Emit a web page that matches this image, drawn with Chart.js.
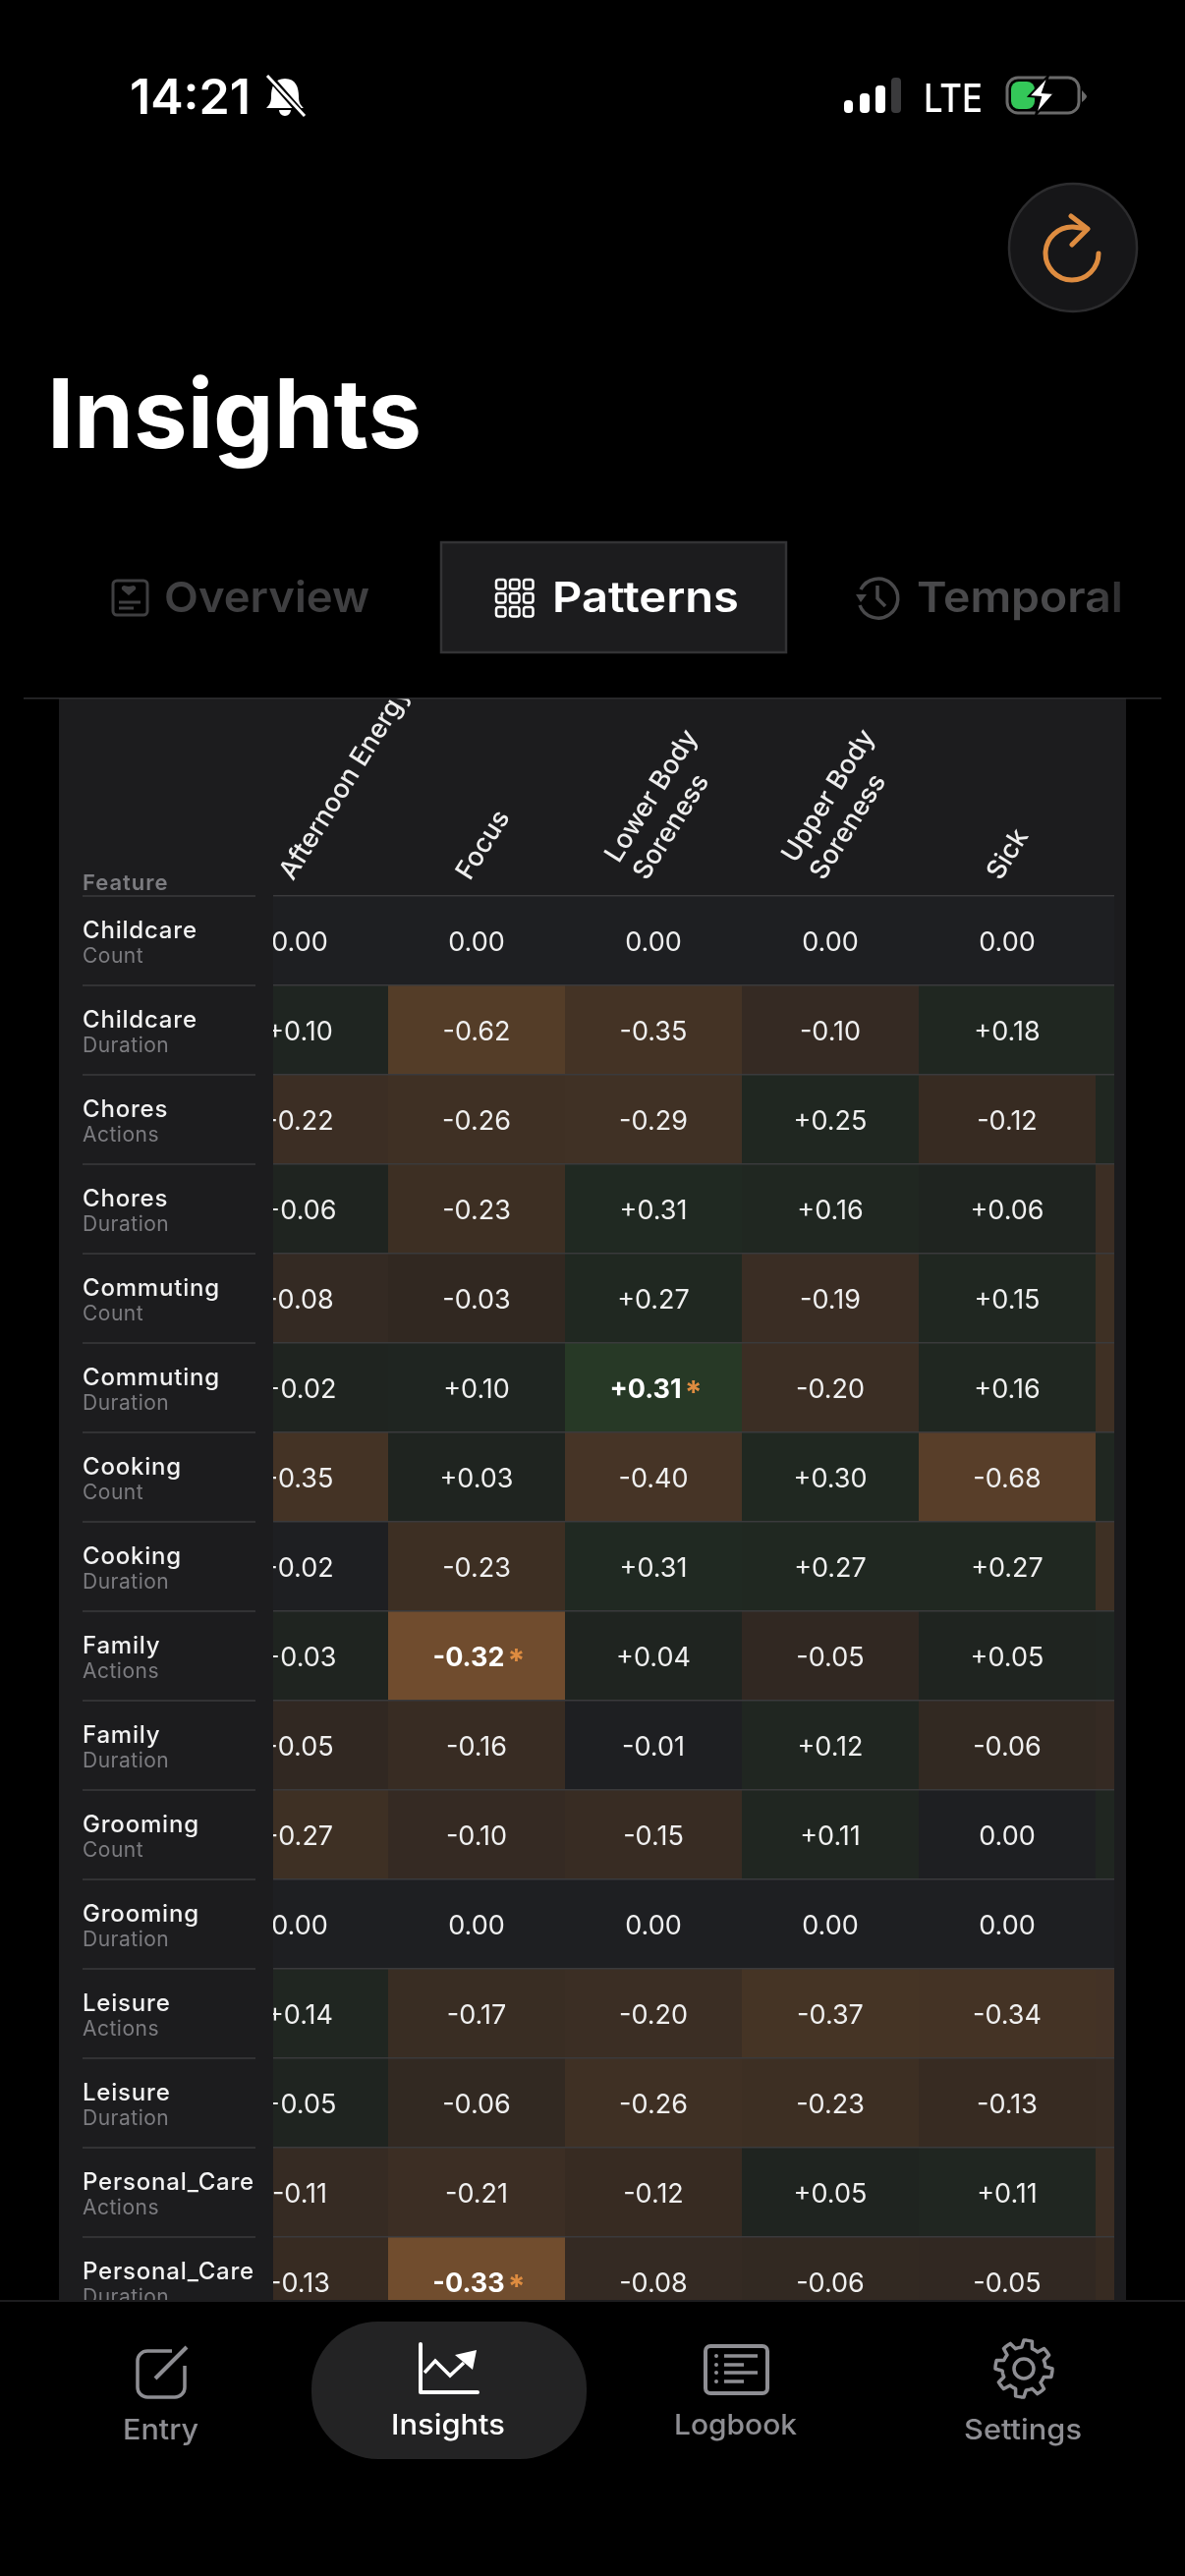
<!DOCTYPE html>
<html>
<head>
<meta charset="utf-8">
<title>Insights</title>
<script src="https://cdn.jsdelivr.net/npm/chart.js@4/dist/chart.umd.min.js"></script>
<style>
    html, body { margin: 0; background: #000; width: 1206px; height: 2622px; overflow: hidden; }
    #panel { position: absolute; left: 60px; top: 711px; width: 1086px; height: 1630px; background: #1c1c1e; }
    #scroller { position: absolute; left: 0; top: 0; width: 1074px; height: 1630px; overflow: hidden; }
    #heatmap { position: absolute; left: 0; top: 0; }
    #chrome { position: absolute; left: 0; top: 0; }
    #chrome text { font-family: Inter, sans-serif; }
</style>
</head>
<body>
<div id="panel"><div id="scroller"><canvas id="heatmap" width="1235" height="1657" style="width:1235px;height:1657px"></canvas></div></div>

<svg id="chrome" width="1206" height="2622" viewBox="0 0 1206 2622" xmlns="http://www.w3.org/2000/svg">
    <!-- status bar -->
    <text x="132" y="116" font-size="49" font-weight="600" fill="#fff" textLength="123" lengthAdjust="spacingAndGlyphs">14:21</text>
    <path d="M290 80 c-11 0 -14 9 -14 18 c0 7 -2 9 -5 12 h38 c-3 -3 -5 -5 -5 -12 c0 -9 -3 -18 -14 -18z M284 112 a6 6 0 0 0 12 0z" fill="#fff"/>
    <path d="M274 78 L309 118" stroke="#000" stroke-width="7"/>
    <path d="M272 77 L310 118" stroke="#fff" stroke-width="3"/>
    <rect x="859" y="102" width="9" height="13" rx="4" fill="#fff"/>
    <rect x="875" y="95" width="10" height="20" rx="4" fill="#fff"/>
    <rect x="891" y="87" width="10" height="28" rx="4" fill="#fff"/>
    <rect x="907" y="79" width="10" height="36" rx="4" fill="#3a3a3c"/>
    <text x="940" y="114" font-size="40" font-weight="500" fill="#fff" textLength="60" lengthAdjust="spacingAndGlyphs">LTE</text>
    <rect x="1025" y="79" width="73" height="36" rx="11" fill="none" stroke="#6a6a6a" stroke-width="3"/>
    <rect x="1029" y="83" width="24" height="28" rx="8" fill="#34c759"/>
    <path d="M1067 77 L1047 98 L1059 99 L1054 117 L1073 95 L1061 94z" fill="#fff" stroke="#000" stroke-width="2"/>
    <path d="M1101 92 q5 5 5 6 q0 2 -5 6z" fill="#6a6a6a"/>

    <!-- refresh button -->
    <circle cx="1092" cy="252" r="65" fill="#161618" stroke="#2c2c2e" stroke-width="2.5"/>
    <path d="M1118 258 A27 27 0 1 1 1092 231 L1107 233 M1090 220 L1107 233 L1091 249" fill="none" stroke="#de8c40" stroke-width="5" stroke-linecap="round" stroke-linejoin="round"/>

    <text x="48" y="456" font-size="98" font-weight="700" fill="#fff" textLength="381" lengthAdjust="spacingAndGlyphs">Insights</text>

    <!-- tabs -->
    <rect x="449" y="552" width="351" height="112" fill="#1c1c1e" stroke="#333335" stroke-width="2.5"/>
    <text x="562" y="623" font-size="43" font-weight="600" fill="#fff" textLength="190" lengthAdjust="spacingAndGlyphs">Patterns</text>
    <g fill="none" stroke="#fff" stroke-width="2.5" id="gridIcon"></g>
    <text x="167" y="623" font-size="43" font-weight="600" fill="#3f3f41" textLength="209" lengthAdjust="spacingAndGlyphs">Overview</text>
    <rect x="115" y="591" width="35" height="35" rx="4" fill="none" stroke="#3f3f41" stroke-width="3"/>
    <path d="M132 597 l-5 -1 q-3 1 -2 4 l7 6 l7 -6 q1 -3 -2 -4z" fill="#3f3f41" transform="translate(-1 0)"/>
    <path d="M121 613 H143 M121 619 H136" stroke="#3f3f41" stroke-width="3"/>
    <defs>
        <linearGradient id="fadeTab" x1="933" x2="1141" y1="0" y2="0" gradientUnits="userSpaceOnUse">
            <stop offset="0" stop-color="#49494b"/><stop offset="0.85" stop-color="#49494b"/><stop offset="1" stop-color="#2c2c2e"/>
        </linearGradient>
    </defs>
    <text x="933" y="623" font-size="43" font-weight="600" fill="url(#fadeTab)" textLength="210" lengthAdjust="spacingAndGlyphs">Temporal</text>
    <path d="M876 600 A20 20 0 1 1 875 616" fill="none" stroke="#49494b" stroke-width="3.5"/>
    <path d="M871 605 L882 605 L876 613z" fill="#49494b"/>
    <path d="M893 596 V609 L901 617" fill="none" stroke="#49494b" stroke-width="3.5"/>

    <rect x="24" y="710" width="1158" height="1.5" fill="#2c2c2e"/>

    <!-- bottom nav -->
    <rect x="0" y="2341" width="1206" height="281" fill="#000"/>
    <rect x="0" y="2341" width="1206" height="2" fill="#1c1c1e"/>
    <rect x="317" y="2363" width="280" height="140" rx="68" fill="#232324"/>
    <path d="M175 2393 H150 a10 10 0 0 0 -10 10 V2430 a10 10 0 0 0 10 10 H178 a10 10 0 0 0 10 -10 V2408" fill="none" stroke="#8e8e93" stroke-width="3.5"/>
    <path d="M158 2421 L190 2389" stroke="#8e8e93" stroke-width="4"/>
    <text x="125" y="2483" font-size="29" font-weight="500" fill="#8e8e93" textLength="77" lengthAdjust="spacingAndGlyphs">Entry</text>
    <path d="M428 2386 V2435 H486" fill="none" stroke="#fff" stroke-width="4" stroke-linecap="round" stroke-linejoin="round"/>
    <path d="M432 2415 L443 2403 L458 2418 L472 2405" fill="none" stroke="#fff" stroke-width="3.5"/>
    <path d="M485 2392 L463 2397 L481 2412z" fill="#fff"/>
    <text x="398" y="2478" font-size="29" font-weight="500" fill="#fff" textLength="116" lengthAdjust="spacingAndGlyphs">Insights</text>
    <rect x="718" y="2388" width="63" height="48" rx="5" fill="none" stroke="#8e8e93" stroke-width="4"/>
    <path d="M737 2398 H771 M737 2407 H757 M737 2415 H771 M737 2424 H757" stroke="#8e8e93" stroke-width="3.5"/>
    <path d="M729 2398 v.1 M729 2407 v.1 M729 2415 v.1 M729 2424 v.1" stroke="#8e8e93" stroke-width="4" stroke-linecap="round"/>
    <text x="686" y="2478" font-size="29" font-weight="500" fill="#8e8e93" textLength="125" lengthAdjust="spacingAndGlyphs">Logbook</text>
    <path id="gearIcon" fill="none" stroke="#8e8e93" stroke-width="3.5" stroke-linejoin="round"/>
    <circle cx="1042" cy="2411" r="10" fill="none" stroke="#8e8e93" stroke-width="3.5"/>
    <text x="981" y="2483" font-size="29" font-weight="500" fill="#8e8e93" textLength="120" lengthAdjust="spacingAndGlyphs">Settings</text>
</svg>

<script>
// rows of the table
const features = ['Childcare', 'Childcare', 'Chores', 'Chores', 'Commuting', 'Commuting', 'Cooking', 'Cooking',
    'Family', 'Family', 'Grooming', 'Grooming', 'Leisure', 'Leisure', 'Personal_Care', 'Personal_Care'];
const metrics = ['Count', 'Duration', 'Actions', 'Duration', 'Count', 'Duration', 'Count', 'Duration',
    'Actions', 'Duration', 'Count', 'Duration', 'Actions', 'Duration', 'Actions', 'Duration'];

// columns, the sixth one is scrolled out of view and its name can't be read
const outcomes = [['Afternoon Energy'], ['Focus'], ['Lower Body', 'Soreness'], ['Upper Body', 'Soreness'], ['Sick'], ['']];

const afternoonEnergy = [0, 0.10, -0.22, 0.06, -0.08, 0.024, -0.35, -0.016, 0.03, -0.05, -0.27, 0, 0.14, 0.05, -0.11, -0.13];
const focus = [0, -0.62, -0.26, -0.23, -0.03, 0.10, 0.03, -0.23, -0.32, -0.16, -0.10, 0, -0.17, -0.06, -0.21, -0.33];
const lowerBodySoreness = [0, -0.35, -0.29, 0.31, 0.27, 0.31, -0.40, 0.31, 0.04, -0.01, -0.15, 0, -0.20, -0.26, -0.12, -0.08];
const upperBodySoreness = [0, -0.10, 0.25, 0.16, -0.19, -0.20, 0.30, 0.27, -0.05, 0.12, 0.11, 0, -0.37, -0.23, 0.05, -0.06];
const sick = [0, 0.18, -0.12, 0.06, 0.15, 0.16, -0.68, 0.27, 0.05, -0.06, 0, 0, -0.34, -0.13, 0.11, -0.05];
const hiddenOutcome = [0, 0.17, 0.22, -0.22, -0.24, -0.26, 0.15, -0.24, 0.08, -0.10, 0.12, 0, -0.33, -0.14, -0.21, -0.12];

const columns = [afternoonEnergy, focus, lowerBodySoreness, upperBodySoreness, sick, hiddenOutcome];

// [row, column] of the starred cells
const significant = [[5, 2], [8, 1], [15, 1]];
const isSignificant = (r, c) => significant.some(s => s[0] === r && s[1] === c);

const cellColor = (v, r, c) => {
    if (Math.abs(v) < 0.02) return 'rgb(30,31,34)';
    const boost = isSignificant(r, c) ? 2.2 : 1;
    if (v < 0) return `rgba(224,142,68,${(0.1 + 0.3 * -v) * boost})`;
    return `rgba(90,190,80,${(0.05 + 0.1 * v) * boost})`;
};

const formatValue = (v) => {
    if (v === 0) return '0.00';
    return (v > 0 ? '+' : '-') + Math.abs(v).toFixed(2);
};

const cellLabels = {
    id: 'cellLabels',
    afterDraw(chart) {
        const { ctx, scales: { x, y } } = chart;
        ctx.save();
        ctx.textAlign = 'center';
        ctx.textBaseline = 'middle';
        columns.forEach((values, c) => {
            const cx = x.getPixelForValue(c);
            values.forEach((v, r) => {
                const cy = y.getPixelForValue(r + 0.5) + 2;
                const text = formatValue(v);
                if (isSignificant(r, c)) {
                    ctx.font = '700 27px Inter';
                    ctx.fillStyle = '#fff';
                    ctx.fillText(text, cx - 8, cy);
                    const w = ctx.measureText(text).width;
                    ctx.font = '700 32px Inter';
                    ctx.fillStyle = '#de8c40';
                    ctx.fillText('*', cx - 8 + w / 2 + 12, cy + 5);
                } else {
                    ctx.font = '400 27px Inter';
                    ctx.fillStyle = '#f0f0f0';
                    ctx.fillText(text, cx, cy);
                }
            });
        });

        // sticky first column on top of the scrolled cells
        ctx.fillStyle = '#1c1c1e';
        ctx.fillRect(0, 0, 218, chart.height);
        ctx.textAlign = 'left';
        ctx.textBaseline = 'alphabetic';
        ctx.font = '600 22px Inter';
        ctx.letterSpacing = '1px';
        ctx.fillStyle = '#7c7c80';
        ctx.fillText('Feature', 24, y.top - 6);
        ctx.strokeStyle = '#3a3a3c';
        ctx.lineWidth = 1.5;
        features.forEach((name, r) => {
            const top = y.getPixelForValue(r);
            ctx.beginPath();
            ctx.moveTo(24, top);
            ctx.lineTo(200, top);
            ctx.stroke();
            ctx.font = '500 24px Inter';
            ctx.letterSpacing = '0.8px';
            ctx.fillStyle = '#f2f2f2';
            ctx.fillText(name, 24, top + 43);
            ctx.font = '400 21px Inter';
            ctx.letterSpacing = '0.5px';
            ctx.fillStyle = '#7c7c80';
            ctx.fillText(metrics[r], 24, top + 68);
        });
        ctx.restore();
    }
};

const chart = new Chart(document.getElementById('heatmap'), {
    type: 'bar',
    data: {
        labels: outcomes,
        // one dataset per table row, spanning [row, row + 1] on the reversed y scale
        datasets: features.map((name, r) => ({
            label: name + ' ' + metrics[r],
            data: columns.map(() => [r, r + 1]),
            backgroundColor: columns.map((values, c) => cellColor(values[r], r, c)),
            borderWidth: 0,
            inflateAmount: 0,
            grouped: false,
            barPercentage: 1,
            categoryPercentage: 1
        }))
    },
    options: {
        responsive: false,
        maintainAspectRatio: false,
        animation: false,
        layout: { padding: 0, autoPadding: false },
        plugins: { legend: { display: false }, tooltip: { enabled: false } },
        scales: {
            x: {
                type: 'category',
                position: 'top',
                afterFit: (s) => { s.height = 201; },
                grid: { display: false },
                border: { display: false },
                ticks: {
                    autoSkip: false,
                    minRotation: 58,
                    maxRotation: 58,
                    padding: 2,
                    labelOffset: 15,
                    color: '#eeeeee',
                    font: { family: 'Inter', size: 27, weight: '500', lineHeight: 1.25 }
                }
            },
            y: {
                type: 'linear',
                reverse: true,
                min: 0,
                max: 16,
                afterFit: (s) => { s.width = 155; },
                border: { display: false },
                grid: { color: '#3a3a3c', lineWidth: 1.5, drawTicks: false, z: 1 },
                ticks: { display: false, stepSize: 1 }
            }
        }
    },
    plugins: [cellLabels]
});

// tab and nav icons
const gridIcon = document.getElementById('gridIcon');
for (let i = 0; i < 3; i++) {
    for (let j = 0; j < 3; j++) {
        const cell = document.createElementNS('http://www.w3.org/2000/svg', 'rect');
        cell.setAttribute('x', 505 + j * 14);
        cell.setAttribute('y', 590 + i * 14);
        cell.setAttribute('width', 9.5);
        cell.setAttribute('height', 9.5);
        cell.setAttribute('rx', 2.5);
        gridIcon.appendChild(cell);
    }
}

let gear = '';
for (let i = 0; i < 64; i++) {
    const a = i / 64 * Math.PI * 2;
    const phase = (i % 8) / 8;
    const r = phase < 0.38 ? 29 : (phase < 0.5 || phase > 0.88 ? 26 : 22);
    gear += (i ? 'L' : 'M') + (1042 + r * Math.cos(a)).toFixed(1) + ' ' + (2411 + r * Math.sin(a)).toFixed(1);
}
document.getElementById('gearIcon').setAttribute('d', gear + 'z');
</script>
</body>
</html>
